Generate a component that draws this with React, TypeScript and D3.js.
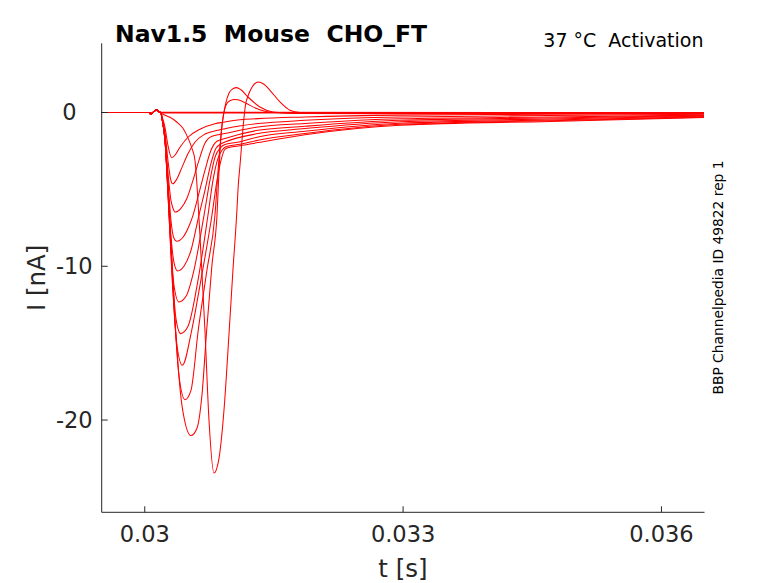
import React from 'react';
import * as d3 from 'd3';

type Pt = [number, number];

// time [s], current [nA]
const xDomain: Pt = [0.0295, 0.0365];
const yDomain: Pt = [-26, 4.5];
const xTicks = [0.03, 0.033, 0.036];
const xTickLabels = ['0.03', '0.033', '0.036'];
const yTicks = [-20, -10, 0];
const yTickLabels = ['-20', '-10', '0'];

const titleText = 'Nav1.5  Mouse  CHO_FT';
const subtitleText = '37 °C  Activation';
const sideText = 'BBP Channelpedia ID 49822 rep 1';
const xLabel = 't [s]';
const yLabel = 'I [nA]';

// shared capacitive artifact at start of the step
const artifact: Pt[] = [[0.0295, 0], [0.03006, 0], [0.030066, -0.12], [0.030095, 0], [0.030136, 0.17], [0.030165, 0.05]];

const base1: Pt[] = [[0.030188, 0.0], [0.036494, 0.0]];
const base2: Pt[] = [[0.030188, 0.02], [0.031, 0.01], [0.036494, 0.0]];
const base3: Pt[] = [[0.030188, -0.03], [0.032, -0.02], [0.036494, -0.01]];

const traceA: Pt[] = [[0.030188, -0.026], [0.0302, -0.247], [0.030235, -0.962], [0.030269, -2.133], [0.030312, -2.933], [0.030351, -2.78], [0.030409, -2.26], [0.030502, -1.61], [0.030641, -1.09], [0.030815, -0.73], [0.030931, -0.62], [0.031013, -0.53], [0.031315, -0.4], [0.03186, -0.29], [0.032964, -0.17], [0.034706, -0.12], [0.036494, -0.07]];
const traceB: Pt[] = [[0.030188, -0.026], [0.0302, -0.312], [0.030235, -1.288], [0.030269, -3.109], [0.030298, -4.279], [0.030324, -4.637], [0.03037, -4.35], [0.03043, -3.6], [0.0305, -2.7], [0.03058, -1.95], [0.0307, -1.4], [0.03085, -1.15], [0.030931, -1.05], [0.0311, -0.88], [0.031315, -0.72], [0.03186, -0.51], [0.032964, -0.29], [0.034706, -0.2], [0.036494, -0.12]];
const traceC: Pt[] = [[0.030188, -0.026], [0.0302, -0.377], [0.030235, -1.613], [0.030269, -3.889], [0.030304, -5.71], [0.030328, -6.23], [0.030351, -6.471], [0.03042, -6.23], [0.03049, -5.58], [0.03056, -4.409], [0.030629, -3.109], [0.030699, -2.003], [0.03078, -1.548], [0.030931, -1.372], [0.031315, -0.943], [0.03186, -0.722], [0.032964, -0.41], [0.034706, -0.29], [0.036494, -0.17]];
const traceD: Pt[] = [[0.030188, -0.026], [0.0302, -0.377], [0.030235, -1.678], [0.030269, -4.409], [0.030304, -7.01], [0.030339, -8.181], [0.03037, -8.376], [0.030444, -8.116], [0.030513, -7.4], [0.03056, -6.685], [0.030629, -5.255], [0.030699, -3.759], [0.030769, -2.458], [0.030838, -1.873], [0.030931, -1.697], [0.031315, -1.158], [0.03186, -0.897], [0.032964, -0.51], [0.034706, -0.36], [0.036494, -0.21]];
const traceE: Pt[] = [[0.030188, -0.026], [0.0302, -0.377], [0.030235, -1.743], [0.030269, -4.734], [0.030304, -7.986], [0.030339, -9.741], [0.030382, -10.307], [0.030455, -10.002], [0.030537, -8.96], [0.030629, -6.685], [0.030699, -5.06], [0.030769, -3.304], [0.030827, -2.328], [0.030885, -2.036], [0.030931, -1.918], [0.031315, -1.372], [0.03186, -1.047], [0.032964, -0.6], [0.034706, -0.42], [0.036494, -0.24]];
const traceF: Pt[] = [[0.030188, -0.026], [0.0302, -0.377], [0.030235, -1.808], [0.030269, -4.93], [0.030304, -8.635], [0.030339, -11.237], [0.030397, -12.324], [0.030479, -11.953], [0.030571, -10.262], [0.030688, -6.685], [0.030757, -4.409], [0.030815, -2.913], [0.030873, -2.328], [0.030931, -2.088], [0.031106, -1.905], [0.031315, -1.593], [0.03186, -1.223], [0.032964, -0.7], [0.034706, -0.49], [0.036494, -0.28]];
const traceG: Pt[] = [[0.030188, -0.026], [0.0302, -0.377], [0.030235, -1.808], [0.030269, -5.06], [0.030316, -9.936], [0.030362, -13.384], [0.030417, -14.379], [0.030502, -13.904], [0.030618, -10.912], [0.030734, -6.685], [0.030792, -4.409], [0.03085, -2.979], [0.030897, -2.458], [0.030943, -2.231], [0.031106, -2.068], [0.031315, -1.808], [0.03186, -1.372], [0.032964, -0.77], [0.034706, -0.54], [0.036494, -0.31]];
const traceH: Pt[] = [[0.030188, -0.026], [0.0302, -0.377], [0.030235, -1.808], [0.030269, -5.19], [0.030316, -10.587], [0.030374, -15.14], [0.030436, -16.44], [0.030545, -14.164], [0.030641, -11.237], [0.03078, -6.685], [0.030839, -4.409], [0.030885, -3.109], [0.030931, -2.393], [0.030989, -2.263], [0.031106, -2.166], [0.031315, -1.958], [0.03186, -1.45], [0.032964, -0.83], [0.034706, -0.58], [0.036494, -0.33]];
const traceI: Pt[] = [[0.030188, -0.026], [0.0302, -0.377], [0.030235, -1.808], [0.030269, -5.255], [0.030328, -11.563], [0.030397, -17.091], [0.030467, -18.671], [0.030537, -18.066], [0.030621, -14.164], [0.030722, -10.262], [0.030815, -6.685], [0.030856, -3.434], [0.030885, -1.483], [0.030908, -0.377], [0.030943, 0.468], [0.030989, 0.761], [0.031048, 0.839], [0.031117, 0.761], [0.031183, 0.579], [0.0313, 0.254], [0.031454, 0.013], [0.031686, -0.052], [0.03186, -0.065], [0.032964, -0.07], [0.034706, -0.05], [0.036494, -0.04]];
const traceJ: Pt[] = [[0.030188, -0.026], [0.0302, -0.377], [0.030235, -1.808], [0.030281, -6.035], [0.030351, -13.514], [0.030432, -19.042], [0.030537, -21.012], [0.030606, -20.537], [0.030664, -18.391], [0.030719, -14.164], [0.03078, -9.936], [0.030839, -6.685], [0.030868, -3.109], [0.030891, -1.158], [0.030912, -0.247], [0.030943, 0.663], [0.030978, 1.249], [0.031024, 1.541], [0.031067, 1.619], [0.031117, 1.476], [0.031199, 1.008], [0.031338, 0.358], [0.031489, 0.033], [0.031686, -0.039], [0.03186, -0.065], [0.032964, -0.08], [0.034706, -0.05], [0.036494, -0.04]];
const traceK: Pt[] = [[0.030223, -0.15], [0.030293, -0.312], [0.030371, -0.618], [0.030444, -1.027], [0.030505, -1.697], [0.030548, -2.328], [0.030583, -3.109], [0.030641, -7.986], [0.030699, -14.164], [0.030746, -20.017], [0.030804, -23.444], [0.030862, -22.488], [0.03092, -19.367], [0.030981, -14.164], [0.031024, -10.262], [0.031067, -6.685], [0.031086, -4.734], [0.031106, -3.434], [0.031144, -0.832], [0.031169, 0.468], [0.031202, 1.119], [0.031245, 1.639], [0.031318, 1.984], [0.031384, 1.834], [0.031454, 1.444], [0.03157, 0.683], [0.031686, 0.143], [0.031802, -0.007], [0.032035, -0.052], [0.032964, -0.07], [0.034706, -0.05], [0.036494, -0.04]];

const traces: Pt[][] = [base1, base2, base3, traceA, traceB, traceC, traceD, traceE, traceF, traceG, traceH, traceI, traceJ, traceK];

const W = 778;
const H = 583;
const plot = { left: 101.7, right: 704.5, top: 43.3, bottom: 512.3 };
const axisColor = '#262626';
const font = '"DejaVu Sans", Verdana, sans-serif';

export default function App() {
  const x = d3.scaleLinear().domain(xDomain).range([plot.left, plot.right]);
  const y = d3.scaleLinear().domain(yDomain).range([plot.bottom, plot.top]);
  const line = d3
    .line<Pt>()
    .x((d) => x(d[0]))
    .y((d) => y(d[1]))
    .curve(d3.curveMonotoneX);

  return (
    <svg
      width={W}
      height={H}
      viewBox={`0 0 ${W} ${H}`}
      style={{ position: 'absolute', left: 0, top: 0, background: '#fff' }}
      fontFamily={font}
    >
      <rect x={0} y={0} width={W} height={H} fill="#fff" />
      <g fill="none" stroke="#ff0000" strokeWidth={1.05}>
        {traces.map((t, i) => (
          <path key={i} d={line([...artifact, ...t]) || ''} />
        ))}
      </g>
      {/* axes */}
      <g stroke={axisColor} strokeWidth={1} fill="none">
        <line x1={plot.left} y1={plot.top} x2={plot.left} y2={plot.bottom} />
        <line x1={plot.left} y1={plot.bottom} x2={plot.right} y2={plot.bottom} />
        {xTicks.map((t) => (
          <line key={'xt' + t} x1={x(t)} x2={x(t)} y1={plot.bottom} y2={plot.bottom - 6} />
        ))}
        {yTicks.map((t) => (
          <line key={'yt' + t} x1={plot.left} x2={plot.left + 6} y1={y(t)} y2={y(t)} />
        ))}
      </g>
      <g fill={axisColor} fontSize={22.5}>
        {xTicks.map((t, i) => (
          <text key={'xl' + t} x={x(t)} y={541.5} textAnchor="middle">
            {xTickLabels[i]}
          </text>
        ))}
        {yTicks.map((t, i) => (
          <text
            key={'yl' + t}
            x={t === 0 ? plot.left - 25 : plot.left - 9}
            y={y(t)}
            textAnchor="end"
            dominantBaseline="central"
          >
            {yTickLabels[i]}
          </text>
        ))}
      </g>
      <text x={403} y={577} textAnchor="middle" fontSize={24.5} fill={axisColor}>
        {xLabel}
      </text>
      <text
        transform={`translate(45, ${(plot.top + plot.bottom) / 2}) rotate(-90)`}
        textAnchor="middle"
        fontSize={24.5}
        fill={axisColor}
      >
        {yLabel}
      </text>
      <text x={115} y={42.3} fontSize={23.5} fontWeight="bold" fill="#000" style={{ whiteSpace: 'pre' }}>
        {titleText}
      </text>
      <text x={703.5} y={47.3} fontSize={19} textAnchor="end" fill="#000" style={{ whiteSpace: 'pre' }}>
        {subtitleText}
      </text>
      <text
        transform={`translate(722.5, 277.5) rotate(-90)`}
        textAnchor="middle"
        fontSize={13.8}
        fill="#000"
      >
        {sideText}
      </text>
    </svg>
  );
}
